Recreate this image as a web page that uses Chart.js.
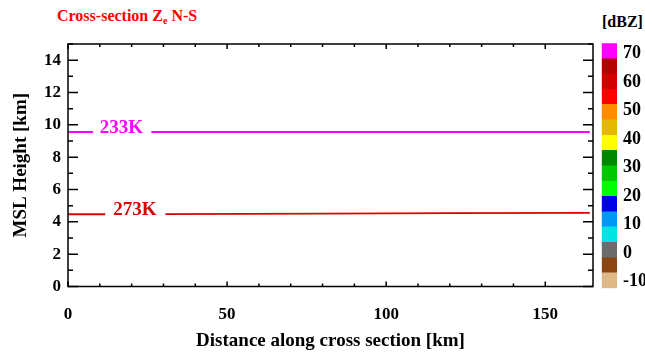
<!DOCTYPE html>
<html>
<head>
<meta charset="utf-8">
<script src="https://cdn.jsdelivr.net/npm/chart.js@4"></script>
<style>
  body { margin: 0; width: 645px; height: 353px; background: #fff; position: relative; overflow: hidden;
         font-family: "Liberation Serif", serif; font-weight: bold; }
  #main { position: absolute; left: 0; top: 0; }
  #bar { position: absolute; left: 595px; top: 0; }
  #title { position: absolute; left: 57px; top: 7px; color: #f00; font-size: 16px; white-space: nowrap; }
  #title sub { font-size: 10px; vertical-align: -3px; }
  #unit { position: absolute; left: 602px; top: 13px; font-size: 16px; color: #000; }
</style>
</head>
<body>
<div id="title">Cross-section Z<sub>e</sub> N-S</div>
<div id="unit">[dBZ]</div>
<canvas id="main" width="645" height="353"></canvas>
<canvas id="bar" width="50" height="353"></canvas>
<script>
// axis labels
const xTicks = [0, 50, 100, 150];
const yTicks = [0, 2, 4, 6, 8, 10, 12, 14];

// isotherms (distance km, height km), null = gap for the label
const iso233Dist = [0, 7.9, 17, 26.2, 164];
const iso233Height = [9.55, 9.55, null, 9.55, 9.55];
const iso273Dist = [0, 11.7, 21, 30.6, 80, 120, 164];
const iso273Height = [4.47, 4.47, null, 4.48, 4.51, 4.54, 4.56];
const isoLabels = ['233K', '273K'];
const isoLabelDist = [16.8, 21.0];
const isoLabelHeight = [9.55, 4.47];
const isoColors = ['#ff00ff', '#dd0000'];

// colour bar, bottom to top
const dbzTicks = [-10, 0, 10, 20, 30, 40, 50, 60, 70];
const dbzEdges = [-12.3, -6.9, -1.6, 3.8, 9.2, 14.5, 19.9, 25.2, 30.6, 36.0, 41.3, 46.7, 52.1, 57.4, 62.8, 68.1, 73.5];
const dbzColors = ['#deb887', '#8b4513', '#6c6c6c', '#00e4e4', '#0098f2', '#0000e8', '#00ff00', '#00c800',
                   '#008800', '#ffff00', '#e4b800', '#ff8c00', '#ff0000', '#d40000', '#b40000', '#ff00ff'];

const fam = '"Liberation Serif", serif';
const tickFont = { family: fam, size: 17, weight: 'bold' };
const titleFont = { family: fam, size: 19, weight: 'bold' };

const pts = (xs, ys) => xs.map((v, i) => ({ x: v, y: ys[i] }));

// box + inward ticks + isotherm labels
const frame = {
  id: 'frame',
  afterDatasetsDraw(chart) {
    const { ctx, chartArea: a, scales: { x, y } } = chart;
    ctx.save();
    ctx.strokeStyle = '#000';
    ctx.lineWidth = 1.5;
    ctx.strokeRect(a.left, a.top, a.right - a.left, a.bottom - a.top);
    ctx.beginPath();
    x.ticks.forEach(t => {
      if (t.value % 10 !== 0) return;
      const px = x.getPixelForValue(t.value);
      const len = t.value % 50 === 0 ? 5 : 3;
      ctx.moveTo(px, a.bottom); ctx.lineTo(px, a.bottom - len);
      ctx.moveTo(px, a.top); ctx.lineTo(px, a.top + len);
    });
    y.ticks.forEach(t => {
      const py = y.getPixelForValue(t.value);
      const len = t.value % 2 === 0 ? 10 : 5;
      ctx.moveTo(a.left, py); ctx.lineTo(a.left + len, py);
      ctx.moveTo(a.right, py); ctx.lineTo(a.right - len, py);
    });
    ctx.stroke();
    ctx.font = 'bold 19px ' + fam;
    ctx.textAlign = 'center';
    ctx.textBaseline = 'alphabetic';
    isoLabels.forEach((s, i) => {
      ctx.fillStyle = isoColors[i];
      ctx.fillText(s, x.getPixelForValue(isoLabelDist[i]), y.getPixelForValue(isoLabelHeight[i]) + 1);
    });
    ctx.restore();
  }
};

new Chart(document.getElementById('main'), {
  type: 'line',
  data: {
    datasets: [
      { data: pts(iso233Dist, iso233Height), borderColor: isoColors[0], borderWidth: 2, pointRadius: 0, spanGaps: false },
      { data: pts(iso273Dist, iso273Height), borderColor: isoColors[1], borderWidth: 1.8, pointRadius: 0, spanGaps: false }
    ]
  },
  options: {
    responsive: false,
    animation: false,
    plugins: { legend: { display: false }, tooltip: { enabled: false } },
    layout: { padding: { top: 44, right: 52, left: 0, bottom: 0 } },
    scales: {
      x: {
        type: 'linear', min: 0, max: 165,
        afterFit(s) { s.height = 66.5; },
        grid: { display: false, drawTicks: false },
        border: { display: false },
        ticks: { stepSize: 10, autoSkip: false, maxRotation: 0, padding: 18, color: '#000', font: tickFont,
                 callback: v => xTicks.includes(v) ? String(v) : '' },
        title: { display: true, text: 'Distance along cross section [km]', color: '#000', font: titleFont,
                 padding: { top: 0, bottom: 1 } }
      },
      y: {
        type: 'linear', min: 0, max: 15,
        afterFit(s) { s.width = 68; },
        grid: { display: false, drawTicks: false },
        border: { display: false },
        ticks: { stepSize: 1, autoSkip: false, padding: 7, color: '#000', font: tickFont,
                 callback: v => yTicks.includes(v) ? String(v) : '' },
        title: { display: true, text: 'MSL Height [km]', color: '#000', font: titleFont,
                 padding: { top: 10, bottom: 0 } }
      }
    }
  },
  plugins: [frame]
});

// colour bar
new Chart(document.getElementById('bar'), {
  type: 'bar',
  data: {
    labels: ['dBZ'],
    datasets: dbzColors.map((c, i) => ({
      data: [[dbzEdges[i], dbzEdges[i + 1]]],
      backgroundColor: c, borderWidth: 0, grouped: false,
      barPercentage: 1, categoryPercentage: 1
    }))
  },
  options: {
    responsive: false,
    animation: false,
    plugins: { legend: { display: false }, tooltip: { enabled: false } },
    layout: { padding: { left: 6.7, top: 43.3, bottom: 64.7, right: 0 } },
    scales: {
      x: { display: false },
      y: {
        position: 'right', min: -12.3, max: 73.5,
        afterFit(s) { s.width = 28; },
        afterBuildTicks(s) { s.ticks = dbzTicks.map(v => ({ value: v })); },
        grid: { display: false, drawTicks: false },
        border: { display: false },
        ticks: { padding: 6, color: '#000', font: { family: fam, size: 18, weight: 'bold' } }
      }
    }
  }
});
</script>
</body>
</html>
